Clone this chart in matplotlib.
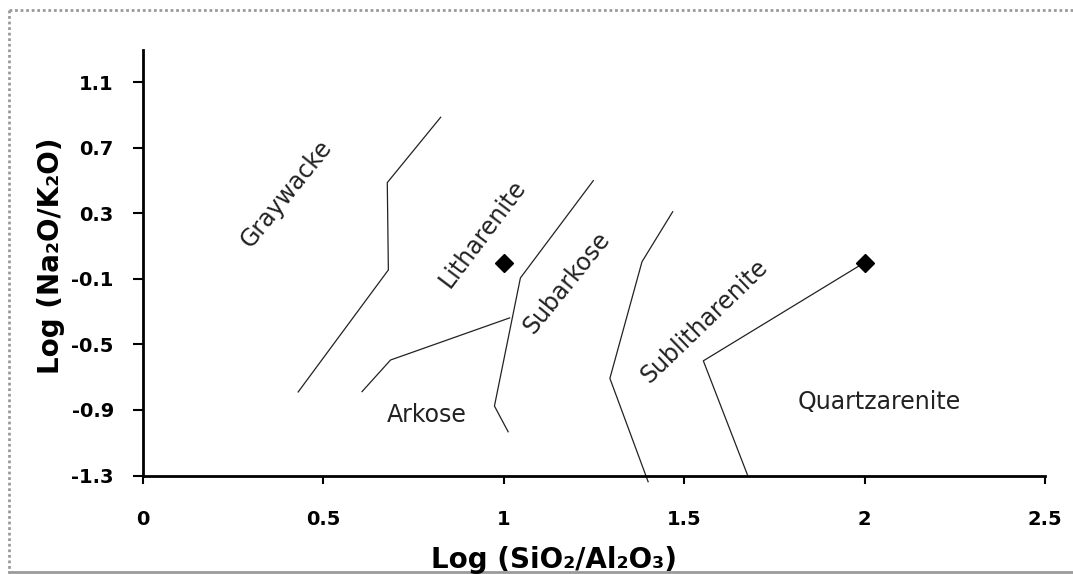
import matplotlib
matplotlib.use("Agg")
import matplotlib.pyplot as plt
from matplotlib.lines import Line2D

# boundary lines of the classification (Log SiO2/Al2O3, Log Na2O/K2O)
graywacke_x = [0.43, 0.68, 0.677, 0.825]
graywacke_y = [-0.79, -0.045, 0.488, 0.887]
arkose_x = [0.607, 0.686, 1.016]
arkose_y = [-0.788, -0.595, -0.338]
subarkose_x = [1.012, 0.974, 1.046, 1.248]
subarkose_y = [-1.033, -0.876, -0.094, 0.50]
sublith_x = [1.40, 1.294, 1.383, 1.468]
sublith_y = [-1.338, -0.707, 0.005, 0.31]
quartz_x = [1.676, 1.553, 2.0]
quartz_y = [-1.30, -0.60, 0.0]

# samples
sample_x = [1.0, 2.0]
sample_y = [0.0, 0.0]

# field names
field_names = ["Graywacke", "Litharenite", "Subarkose", "Sublitharenite", "Arkose", "Quartzarenite"]
field_x = [0.396, 0.94, 1.175, 1.555, 0.786, 2.04]
field_y = [0.418, 0.174, -0.125, -0.357, -0.93, -0.85]
field_rot = [51, 53, 51, 44, 0, 0]

xticks = [0, 0.5, 1, 1.5, 2, 2.5]
yticks = [-1.3, -0.9, -0.5, -0.1, 0.3, 0.7, 1.1]

plt.rcParams['font.family'] = ['DejaVu Sans']

fig = plt.figure(figsize=(10.73, 5.74), dpi=100)
ax = fig.add_axes([0.1333, 0.1716, 0.8406, 0.742])

lc = '#222222'
for xs, ys in [(graywacke_x, graywacke_y), (arkose_x, arkose_y), (subarkose_x, subarkose_y),
               (sublith_x, sublith_y), (quartz_x, quartz_y)]:
    ax.plot(xs, ys, color=lc, lw=0.9, clip_on=False)

ax.plot(sample_x, sample_y, 'D', color='black', markersize=9, clip_on=False)

for name, x, y, r in zip(field_names, field_x, field_y, field_rot):
    ax.text(x, y, name, rotation=r, rotation_mode='anchor', ha='center', va='center',
            fontsize=17, color='#222222')

ax.set_xlim(0, 2.5)
ax.set_ylim(-1.3, 1.3)
ax.set_xticks(xticks)
ax.set_xticklabels(['0', '0.5', '1', '1.5', '2', '2.5'])
ax.set_yticks(yticks)
ax.set_yticklabels(['-1.3', '-0.9', '-0.5', '-0.1', '0.3', '0.7', '1.1'])
for lab in ax.get_xticklabels() + ax.get_yticklabels():
    lab.set_fontweight('bold')
ax.tick_params(axis='x', direction='out', length=6, width=1.5, pad=19, labelsize=14)
ax.tick_params(axis='y', direction='out', length=7, width=1.5, pad=14, labelsize=14)

for s in ['top', 'right']:
    ax.spines[s].set_visible(False)
for s in ['left', 'bottom']:
    ax.spines[s].set_linewidth(2)

fig.text(554 / 1073, 1 - 560 / 574, 'Log (SiO\u2082/Al\u2082O\u2083)', ha='center', va='center',
         fontsize=20, fontweight='bold')
fig.text(51 / 1073, 1 - 256 / 574, 'Log (Na\u2082O/K\u2082O)', ha='center', va='center',
         rotation=90, fontsize=20, fontweight='bold')

# dotted frame around the picture
bc = '#9a9a9a'
fig.add_artist(Line2D([9 / 1073, 9 / 1073], [1 - 10 / 574, 1 - 572 / 574], transform=fig.transFigure,
                      color=bc, lw=2, ls=(0, (1, 1))))
fig.add_artist(Line2D([9 / 1073, 1.0], [1 - 10 / 574, 1 - 10 / 574], transform=fig.transFigure,
                      color=bc, lw=2, ls=(0, (1, 1))))
fig.add_artist(Line2D([9 / 1073, 1.0], [1 - 572 / 574, 1 - 572 / 574], transform=fig.transFigure,
                      color=bc, lw=2))

fig.savefig('out.png', dpi=100)
